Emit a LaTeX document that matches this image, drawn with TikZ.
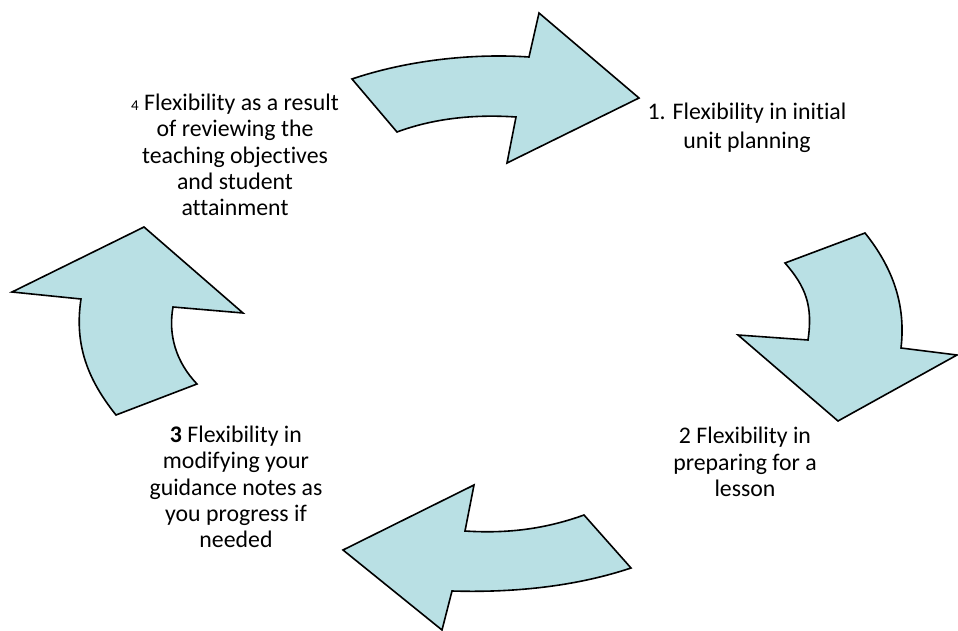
\documentclass[tikz,border=0pt]{standalone}
\usepackage{fontspec}
\setmainfont[Ligatures=NoCommon]{Carlito}
\definecolor{arrowfill}{RGB}{185,224,228}
\tikzset{
  bigarrow/.style={draw=black, fill=arrowfill, line width=1.6pt, line join=miter},
  label/.style={align=center, font=\fontsize{23.8}{26.3}\selectfont, inner sep=0pt}
}
\begin{document}
\begin{tikzpicture}[x=1pt,y=-1pt]
\useasboundingbox (0,0) rectangle (958,631);
% top arrow (pointing right)
\draw[bigarrow] (352,79) -- (397,132)
  .. controls (432,119) and (472,114) .. (516,117)
  -- (507,163) -- (639,98) -- (539,13) -- (529,57)
  .. controls (470,53) and (405,61) .. cycle;
% right arrow (pointing down)
\draw[bigarrow] (785,263) -- (865,233)
  .. controls (893,268) and (906,305) .. (901,348)
  -- (957,355) -- (838,421) -- (738,335) -- (808,340)
  .. controls (813,306) and (806,287) .. cycle;
% bottom arrow (pointing left)
\draw[bigarrow] (343,550) -- (474,485) -- (465,531)
  .. controls (510,534) and (548,528) .. (584,515)
  -- (631,568)
  .. controls (580,585) and (520,593) .. (452,591)
  -- (442,630) -- cycle;
% left arrow (pointing up)
\draw[bigarrow] (144,227) -- (243,313) -- (173,307)
  .. controls (168,335) and (176,362) .. (197,384)
  -- (116,415)
  .. controls (88,380) and (74,345) .. (81,299)
  -- (12,292) -- cycle;
% texts
\node[label] (t1) at (747,128) {1. Flexibility in initial\\[3pt]unit planning};
\node[label] (t2) at (745,462) {2 Flexibility in\\preparing for a\\lesson};
\node[label] (t3) at (236,487) {\textbf{3} Flexibility in\\modifying your\\guidance notes as\\you progress if\\needed};
\node[label] (t4) at (235,155) {{\fontsize{15}{15}\selectfont 4} Flexibility as a result\\of reviewing the\\teaching objectives\\and student\\attainment};
\end{tikzpicture}
\end{document}
